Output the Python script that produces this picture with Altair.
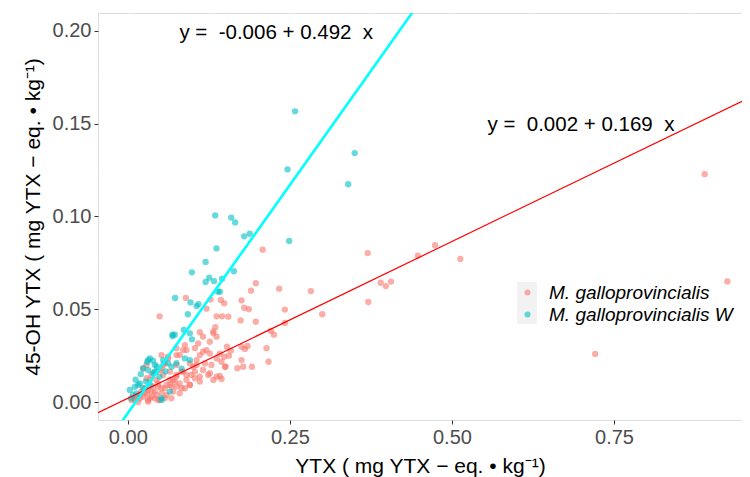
import altair as alt
import pandas as pd

groups = ["M. galloprovincialis", "M. galloprovincialis W"]
colors = ["#F8766D", "#00BFC4"]

red_x = [0.890, 0.925, 0.721, 0.370, 0.371, 0.390, 0.398, 0.406, 0.4475, 0.474, 0.513,
         0.208, 0.0895, 0.049, 0.1214, 0.1276, 0.1435, 0.1487, 0.137, 0.1455, 0.155, 0.135, 0.132, 0.111,
         0.1975, 0.190, 0.2335, 0.2824, 0.1754, 0.1795, 0.1867, 0.2423, 0.174, 0.1975, 0.2423, 0.300, 0.2207, 0.2253,
         0.214, 0.217, 0.153, 0.159, 0.1487, 0.156, 0.142, 0.1754, 0.1806, 0.1847, 0.1754, 0.1507, 0.169, 0.178, 0.1914, 0.142, 0.1446,
         0.132, 0.137, 0.1265, 0.121, 0.1265, 0.137, 0.1445, 0.150, 0.111, 0.101, 0.098, 0.0905, 0.0957, 0.083, 0.075,
         0.065, 0.0545, 0.049, 0.044, 0.034, 0.039, 0.029, 0.0236, 0.0185, 0.034, 0.044, 0.052, 0.0597, 0.075, 0.0854,
         0.106, 0.116, 0.1265, 0.137, 0.132, 0.111, 0.1034, 0.075, 0.065, 0.0545, 0.0468, 0.0365, 0.026, 0.021, 0.0134,
         0.0108, 0.049, 0.0597, 0.070, 0.080, 0.0905, 0.106, 0.119, 0.0957, 0.052, 0.062, 0.080, 0.0905, 0.1085, 0.116,
         0.075, 0.0417, 0.031, 0.057, 0.0674, 0.0725,
         0.0108, 0.0185, 0.026, 0.0314, 0.0365, 0.0417, 0.0468, 0.052, 0.057, 0.065, 0.070, 0.075, 0.083, 0.0288, 0.0365,
         0.0443, 0.052, 0.0236, 0.0288, 0.057, 0.062, 0.075, 0.0854, 0.088, 0.1034, 0.116, 0.1034, 0.0957, 0.111, 0.124,
         0.129, 0.0057, 0.016, 0.0314, 0.0468, 0.0674, 0.080, 0.088]
red_y = [0.1228, 0.065, 0.0259, 0.0803, 0.0539, 0.0643, 0.0625, 0.0649, 0.0789, 0.0845, 0.0771,
         0.0821, 0.0561, 0.0462, 0.0503, 0.0552, 0.055, 0.0532, 0.0462, 0.0462, 0.046, 0.0403, 0.0381, 0.0376,
         0.064, 0.060, 0.0611, 0.0598, 0.0548, 0.0508, 0.050, 0.0498, 0.044, 0.0433, 0.0426, 0.0473, 0.0383, 0.0363,
         0.029, 0.0217, 0.0298, 0.0277, 0.0244, 0.025, 0.026, 0.0298, 0.0286, 0.0302, 0.0226, 0.019, 0.0182, 0.019, 0.019, 0.014, 0.0124,
         0.037, 0.0352, 0.0325, 0.028, 0.0262, 0.0235, 0.0217, 0.019, 0.0253, 0.019, 0.0146, 0.0119, 0.0092, 0.0074, 0.0083,
         0.0119, 0.0146, 0.0173, 0.0119, 0.0119, 0.0083, 0.0047, 0.0029, 0.002, 0.002, 0.0038, 0.0074, 0.0092, 0.0137, 0.0164,
         0.020, 0.0173, 0.0155, 0.0137, 0.0119, 0.011, 0.0164, 0.020, 0.0164, 0.020, 0.010, 0.0056, 0.0074, 0.0056, 0.0029,
         0.0011, 0.0011, 0.0038, 0.0056, 0.010, 0.0146, 0.0226, 0.0208, 0.0208, 0.0253, 0.0244, 0.0253, 0.028, 0.0316, 0.0352,
         0.029, 0.002, 0.0011, 0.002, 0.0083, 0.011,
         0.002, 0.0038, 0.0047, 0.0065, 0.0029, 0.0056, 0.0083, 0.0047, 0.0074, 0.0092, 0.0119, 0.0146, 0.0164, 0.0128, 0.0146,
         0.0164, 0.018, 0.018, 0.020, 0.0209, 0.0235, 0.0253, 0.028, 0.0307, 0.029, 0.0271, 0.0128, 0.0092, 0.0137, 0.0146,
         0.020, 0.0011, 0.0, 0.0002, 0.0011, 0.002, 0.0047, 0.0074]

cyan_x = [0.258, 0.350, 0.2464, 0.340, 0.1348, 0.1595, 0.1656, 0.1795, 0.188, 0.1368, 0.249, 0.120,
          0.0988, 0.1255, 0.120, 0.133, 0.1455, 0.139, 0.142, 0.073, 0.0967, 0.109, 0.106, 0.0926, 0.069, 0.0864,
          0.1636, 0.099, 0.0957, 0.069, 0.0725, 0.034, 0.039, 0.030, 0.0545, 0.062, 0.0674, 0.088, 0.0957,
          0.0236, 0.0313, 0.039, 0.003, 0.0108, 0.0134, 0.008, 0.0185, 0.0236, 0.052, 0.0648, 0.0417, 0.049,
          0.005, 0.012, 0.020, 0.045, 0.058, 0.075, 0.083, 0.028, 0.035, 0.016, 0.0314, 0.0417, 0.052]
cyan_y = [0.1567, 0.1342, 0.1254, 0.1174, 0.1006, 0.0994, 0.0968, 0.0893, 0.0907, 0.0828, 0.0868, 0.0755,
          0.0699, 0.067, 0.0647, 0.0652, 0.0665, 0.0595, 0.0595, 0.0561, 0.0537, 0.0528, 0.0517, 0.0473, 0.0363, 0.0388,
          0.0705, 0.0338, 0.037, 0.0356, 0.0363, 0.0235, 0.0223, 0.0216, 0.0226, 0.0209, 0.019, 0.0235, 0.0226,
          0.0182, 0.0172, 0.0155, 0.0065, 0.0082, 0.0047, 0.0038, 0.010, 0.0074, 0.002, 0.0056, 0.0163, 0.0136,
          0.002, 0.012, 0.015, 0.019, 0.0165, 0.021, 0.018, 0.011, 0.009, 0.0092, 0.0226, 0.020, 0.0011]

intercepts = [0.002, -0.006]
slopes = [0.169, 0.492]
line_colors = ["#FF0000", "#00FFFF"]
line_widths = [1.2, 2.6]

eq_labels = ["y =\u00a0 0.002 + 0.169\u00a0 x", "y =\u00a0 -0.006 + 0.492\u00a0 x"]
eq_x = [0.699, 0.229]
eq_y = [0.1493, 0.1989]

x_ticks = [0, 0.25, 0.5, 0.75]
y_ticks = [0, 0.05, 0.1, 0.15, 0.2]
x_minor = [0.125, 0.375, 0.625, 0.875]
y_minor = [0.025, 0.075, 0.125, 0.175]
x_domain = [-0.046, 0.9475]
y_domain = [-0.0097, 0.2097]

FONT = "Liberation Sans"

pts = pd.concat([
    pd.DataFrame({"x": red_x, "y": red_y, "group": groups[0]}),
    pd.DataFrame({"x": cyan_x, "y": cyan_y, "group": groups[1]}),
], ignore_index=True)

xs = alt.Scale(domain=x_domain, nice=False, zero=False)
ys = alt.Scale(domain=y_domain, nice=False, zero=False)

axis_common = dict(domain=False, grid=True, gridColor="white", gridWidth=1.2,
                   ticks=True, tickColor="#333333", tickSize=4, tickWidth=1,
                   labelColor="#4D4D4D", labelFontSize=20, labelFont=FONT,
                   titleFont=FONT, titleFontSize=21, titleFontWeight="normal",
                   titleColor="black", labelPadding=3, format=".2f")

x_enc = alt.X("x:Q", scale=xs,
              axis=alt.Axis(values=x_ticks, titlePadding=8, **axis_common),
              title="YTX ( mg YTX \u2212 eq. \u2022 kg\u207b\u00b9)")
y_enc = alt.Y("y:Q", scale=ys,
              axis=alt.Axis(values=y_ticks, titlePadding=9, **axis_common),
              title="45-OH YTX ( mg YTX \u2212 eq. \u2022 kg\u207b\u00b9)")

minor_x = alt.Chart(pd.DataFrame({"x": x_minor})).mark_rule(
    color="white", strokeWidth=0.6).encode(x=x_enc)
minor_y = alt.Chart(pd.DataFrame({"y": y_minor})).mark_rule(
    color="white", strokeWidth=0.6).encode(y=y_enc)

key_bg = alt.Chart(pd.DataFrame({"k": [0]})).mark_rect(color="#F2F2F2").encode(
    x=alt.value(419), x2=alt.value(439), y=alt.value(269), y2=alt.value(311))

points = alt.Chart(pts).mark_circle(size=40, opacity=0.6).encode(
    x=x_enc, y=y_enc,
    color=alt.Color("group:N",
                    scale=alt.Scale(domain=groups, range=colors),
                    legend=alt.Legend(orient="none", legendX=420, legendY=270,
                                      title=None, labelFontSize=19, labelLimit=0,
                                      labelFont=FONT, labelFontStyle="italic",
                                      labelColor="black", symbolSize=36,
                                      symbolType="circle", symbolOpacity=0.6,
                                      symbolStrokeWidth=0, rowPadding=2,
                                      labelOffset=12, padding=0)),
)

line_layers = []
for a, b, c, w in zip(intercepts, slopes, line_colors, line_widths):
    ldf = pd.DataFrame({"x": x_domain, "y": [a + b * v for v in x_domain]})
    line_layers.append(
        alt.Chart(ldf).mark_line(color=c, strokeWidth=w, clip=True).encode(x=x_enc, y=y_enc)
    )

eqs = alt.Chart(pd.DataFrame({"x": eq_x, "y": eq_y, "label": eq_labels})).mark_text(
    font=FONT, fontSize=20.5, color="black", align="center", baseline="middle"
).encode(x=x_enc, y=y_enc, text="label:N")

chart = alt.layer(minor_x, minor_y, key_bg, points, *line_layers, eqs).properties(
    width=644, height=407,
    autosize=alt.AutoSizeParams(type="none"),
    padding={"left": 90, "top": 5, "right": 0, "bottom": 57},
).configure_view(fill="#EBEBEB", stroke=None).configure(background="white")

chart.save("out.html", embed_options={"renderer": "svg", "actions": False})
